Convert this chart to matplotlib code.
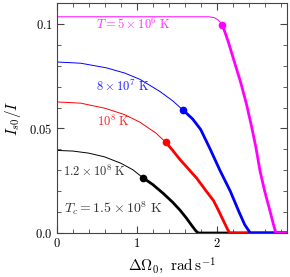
import numpy as np
import matplotlib
matplotlib.use('Agg')
import matplotlib.pyplot as plt
from matplotlib.ticker import MultipleLocator, FixedLocator, FixedFormatter

plt.rcParams['mathtext.fontset'] = 'cm'
plt.rcParams['font.family'] = 'serif'
plt.rcParams['font.serif'] = ['DejaVu Serif']

# curvas: parte fina (ate o ponto) e parte grossa (depois do ponto)
# T = 1.2e8 K (preto)
x_pr_fino = [0, 0.2, 0.4, 0.6, 0.8, 0.95, 1.075]
y_pr_fino = [0.0395, 0.0392, 0.0382, 0.0364, 0.0334, 0.0303, 0.0265]
x_pr_grosso = [1.075, 1.2, 1.33, 1.45, 1.54, 1.62, 1.69, 1.74, 1.77, 2.9]
y_pr_grosso = [0.0265, 0.0232, 0.019, 0.0147, 0.011, 0.0072, 0.0035, 0.001, 0.0, 0.0]

# T = 1e8 K (vermelho)
x_vm_fino = [0, 0.3, 0.6, 0.85, 1.04, 1.24, 1.366]
y_vm_fino = [0.0627, 0.0621, 0.0597, 0.0566, 0.053, 0.0478, 0.0433]
x_vm_grosso = [1.366, 1.45, 1.54, 1.65, 1.75, 1.87, 1.96, 2.02, 2.08, 2.12, 2.16, 2.9]
y_vm_grosso = [0.0433, 0.0395, 0.0352, 0.0305, 0.0262, 0.02, 0.0155, 0.011, 0.0062, 0.003, 0.0, 0.0]

# T = 8e7 K (azul)
x_az_fino = [0, 0.3, 0.62, 0.85, 1.04, 1.29, 1.45, 1.58]
y_az_fino = [0.0818, 0.0812, 0.079, 0.0765, 0.0735, 0.0677, 0.0632, 0.0588]
x_az_grosso = [1.58, 1.7, 1.8, 1.92, 2.04, 2.17, 2.28, 2.35, 2.42, 2.9]
y_az_grosso = [0.0588, 0.0545, 0.0495, 0.04, 0.03, 0.02, 0.01, 0.004, 0.0, 0.0]

# T = 5e6 K (magenta)
x_mg_fino = [0, 1.9, 1.97, 2.02, 2.07]
y_mg_fino = [0.1034, 0.1034, 0.103, 0.1018, 0.0997]
x_mg_grosso = [2.07, 2.14, 2.22, 2.3, 2.37, 2.43, 2.49, 2.54, 2.6, 2.67, 2.71, 2.74, 2.9]
y_mg_grosso = [0.0997, 0.092, 0.082, 0.072, 0.062, 0.052, 0.041, 0.03, 0.02, 0.01, 0.004, 0.0, 0.0]

curvas = [
    (x_pr_fino, y_pr_fino, x_pr_grosso, y_pr_grosso, 'black'),
    (x_vm_fino, y_vm_fino, x_vm_grosso, y_vm_grosso, '#ff0000'),
    (x_az_fino, y_az_fino, x_az_grosso, y_az_grosso, '#0000ff'),
    (x_mg_fino, y_mg_fino, x_mg_grosso, y_mg_grosso, '#ff00ff'),
]

fig = plt.figure(figsize=(2.9, 2.77), dpi=100)
ax = fig.add_axes([0.1955, 0.1588, 0.7931, 0.8304])

for xf, yf, xg, yg, cor in curvas:
    ax.plot(xf, yf, color=cor, lw=0.7)
    ax.plot(xg, yg, color=cor, lw=2.0, solid_capstyle='butt')
    ax.plot(xg[0], yg[0], 'o', color=cor, ms=4.5)

fs = 9
ax.text(0.49, 0.0995, r'$T = 5\times10^6\ \mathrm{K}$', color='#ff30ff', fontsize=fs, va='center')
ax.text(0.49, 0.0700, r'$8\times10^7\ \mathrm{K}$', color='#2020ff', fontsize=fs, va='center')
ax.text(0.50, 0.0534, r'$10^8\ \mathrm{K}$', color='#ff2020', fontsize=fs, va='center')
ax.text(0.075, 0.0294, r'$1.2\times10^8\ \mathrm{K}$', color='#333333', fontsize=fs, va='center')
ax.text(0.09, 0.0118, r'$T_c = 1.5\times10^8\ \mathrm{K}$', color='#333333', fontsize=fs + 1, va='center')

ax.set_xlim(0, 2.875)
ax.set_ylim(0, 0.11)

ax.xaxis.set_major_locator(FixedLocator([0, 1, 2]))
ax.xaxis.set_major_formatter(FixedFormatter([r'$\mathbf{0}$', r'$\mathbf{1}$', r'$\mathbf{2}$']))
ax.xaxis.set_minor_locator(MultipleLocator(0.2))
ax.yaxis.set_major_locator(FixedLocator([0, 0.05, 0.1]))
ax.yaxis.set_major_formatter(FixedFormatter([r'$\mathbf{0.0}$', r'$\mathbf{0.05}$', r'$\mathbf{0.1}$']))
ax.yaxis.set_minor_locator(MultipleLocator(0.01))

ax.tick_params(which='both', direction='in', top=True, right=True, color='#444444', labelsize=9, pad=3)
ax.tick_params(which='major', length=5, width=0.8)
ax.tick_params(which='minor', length=3, width=0.6)
for s in ax.spines.values():
    s.set_color('#444444')
    s.set_linewidth(0.8)

ax.set_xlabel(r'$\Delta\Omega_0,\ \mathrm{rad\,s^{-1}}$', fontsize=11, labelpad=4)
ax.set_ylabel(r'$I_{s0}/I$', fontsize=11, labelpad=4)

fig.savefig('out.png', dpi=100)
